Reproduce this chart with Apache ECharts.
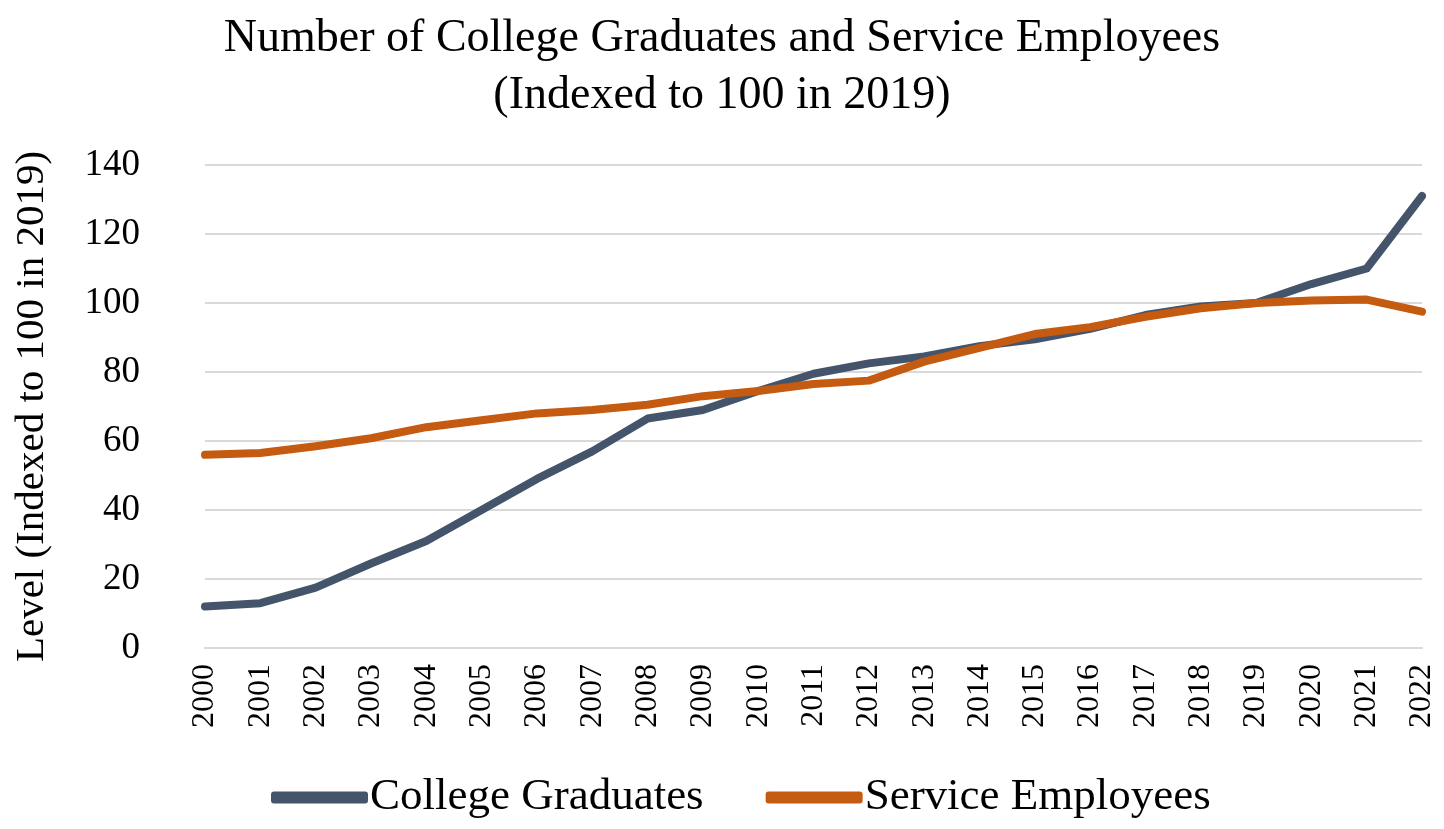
<!DOCTYPE html>
<html>
<head>
<meta charset="utf-8">
<script src="https://cdn.jsdelivr.net/npm/echarts@6/dist/echarts.min.js"></script>
<style>html,body{margin:0;padding:0;background:#fff;}#c{width:1444px;height:829px;}</style>
</head>
<body>
<div id="c"></div>
<script>
const years = ['2000','2001','2002','2003','2004','2005','2006','2007','2008','2009','2010','2011','2012','2013','2014','2015','2016','2017','2018','2019','2020','2021','2022'];
const collegeGraduates = [12, 13, 17.5, 24.5, 31, 40, 49, 57, 66.5, 69, 74.5, 79.5, 82.5, 84.5, 87.5, 89.5, 92.5, 96.5, 99, 100, 105.5, 110, 131];
const serviceEmployees = [56, 56.5, 58.5, 60.8, 64, 66, 68, 69, 70.5, 73, 74.5, 76.5, 77.5, 83, 87, 91, 93, 96, 98.5, 100, 100.7, 101, 97.5];
const yTicks = [0, 20, 40, 60, 80, 100, 120, 140];

const serif = '"Liberation Serif", "Times New Roman", serif';
const chart = echarts.init(document.getElementById('c'));
chart.setOption({
  backgroundColor: '#ffffff',
  animation: false,
  title: {
    text: 'Number of College Graduates and Service Employees\n(Indexed to 100 in 2019)',
    left: 'center',
    top: 5,
    textStyle: { fontFamily: serif, fontWeight: 'normal', fontSize: 46, lineHeight: 57, color: '#000' }
  },
  legend: {
    bottom: 4,
    left: 266,
    itemWidth: 97,
    itemHeight: 12,
    itemGap: 62,
    icon: 'roundRect',
    textStyle: { fontFamily: serif, fontSize: 45, color: '#000', padding: [0, 0, 0, -3] },
    data: ['College Graduates', 'Service Employees']
  },
  grid: { left: 205, right: 22, top: 165, bottom: 181, containLabel: false },
  xAxis: {
    type: 'category',
    data: years,
    boundaryGap: false,
    axisLine: { show: true, lineStyle: { color: '#d9d9d9', width: 2 } },
    axisTick: { show: false },
    axisLabel: { rotate: 90, fontFamily: serif, fontSize: 32, color: '#000', margin: 16, interval: 0 }
  },
  yAxis: {
    type: 'value',
    min: yTicks[0],
    max: yTicks[yTicks.length - 1],
    interval: 20,
    name: 'Level (Indexed to 100 in 2019)',
    nameLocation: 'middle',
    nameGap: 152,
    nameRotate: 90,
    nameTextStyle: { fontFamily: serif, fontSize: 41, color: '#000' },
    axisLine: { show: false },
    axisTick: { show: false },
    axisLabel: { fontFamily: serif, fontSize: 37, color: '#000', margin: 65, align: 'right' },
    splitLine: { lineStyle: { color: '#d9d9d9', width: 2 } }
  },
  series: [
    {
      name: 'College Graduates',
      type: 'line',
      data: collegeGraduates,
      symbol: 'none',
      lineStyle: { color: '#44546A', width: 8, cap: 'round', join: 'round' },
      itemStyle: { color: '#44546A' },
      z: 2
    },
    {
      name: 'Service Employees',
      type: 'line',
      data: serviceEmployees,
      symbol: 'none',
      lineStyle: { color: '#C55A11', width: 8, cap: 'round', join: 'round' },
      itemStyle: { color: '#C55A11' },
      z: 3
    }
  ]
});
</script>
</body>
</html>
